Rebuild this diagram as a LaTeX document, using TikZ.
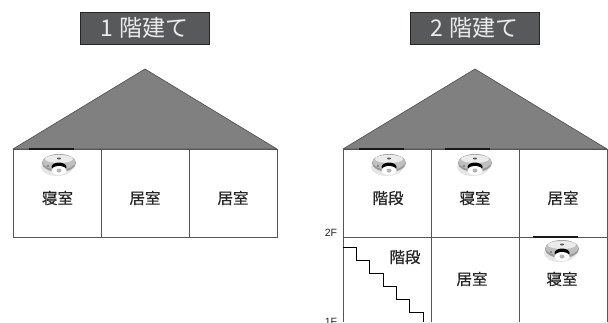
\documentclass[tikz,border=0pt]{standalone}
\usepackage{fontspec}
\setmainfont{Liberation Sans}
\newfontfamily\cjk{Noto Sans CJK JP}
\newfontfamily\cjkm[FakeBold=0.6]{Noto Sans CJK JP}
\definecolor{titlegray}{HTML}{58595B}
\definecolor{roofgray}{HTML}{808080}
\definecolor{wallgray}{HTML}{555555}
\tikzset{
  x=1pt,y=-1pt,
  titlebox/.style={draw=black!85,line width=0.9pt,fill=titlegray,text=white!92!black,minimum width=129pt,minimum height=32pt,inner sep=0pt,font=\fontsize{23}{23}\selectfont\cjk},
  roof/.style={fill=roofgray,draw=wallgray,line width=0.7pt,line join=round},
  wall/.style={draw=wallgray,line width=0.9pt},
  stairline/.style={draw=black,line width=0.8pt},
  ceilbar/.style={draw=black!90,line width=1.6pt},
  room/.style={inner sep=0pt,font=\fontsize{15.5}{15.5}\selectfont\cjkm,text=black!85},
  floorlab/.style={inner sep=0pt,font=\fontsize{10.5}{11}\selectfont,text=black!85},
  sensor/.pic={
    \fill[black!10] (-2,3) ellipse[x radius=16,y radius=9];
    \fill[black!40] (0,-1) ellipse[x radius=17,y radius=9];
    \fill[black!25] (0,-2) ellipse[x radius=16.5,y radius=7.5];
    \fill[black!8] (0,-5) ellipse[x radius=14,y radius=4];
    \fill[black!65] (0,-5.5) ellipse[x radius=2,y radius=1];
    \fill[black] (0,3) ellipse[x radius=7.5,y radius=4.5];
    \fill[white] (0,6.5) ellipse[x radius=7.5,y radius=4.5];
    \fill[black!30] (0,6.5) ellipse[x radius=2.5,y radius=2];
    \fill[black!55] (-11,2) circle[radius=1.2];
  }
}
\begin{document}
\begin{tikzpicture}
\useasboundingbox (0,0) rectangle (608,322);
\clip (0,0) rectangle (608,322);
% left house
\node[titlebox] (t1) at (144.5,28) {1\hspace{2pt} 階建て};
\coordinate (la) at (145,69);
\coordinate (lb) at (13,149);
\coordinate (lc) at (277,149);
\coordinate (ld) at (13,237);
\coordinate (le) at (277,237);
\filldraw[roof] (la) -- (lb) -- (lc) -- cycle;
\draw[wall] (lb) -- (ld) -- (le) -- (lc) -- cycle;
\draw[wall] (101,149) -- (101,237);
\draw[wall] (189,149) -- (189,237);
\draw[ceilbar] (29,149) -- (74,149);
\pic at (59,164) {sensor};
\node[room] (r1) at (57.5,198) {寝室};
\node[room] (r2) at (145,198) {居室};
\node[room] (r3) at (233,198) {居室};
% right house
\node[titlebox] (t2) at (474.5,28) {2\hspace{2pt} 階建て};
\coordinate (ra) at (475,69);
\coordinate (rb) at (343,149);
\coordinate (rc) at (607,149);
\filldraw[roof] (ra) -- (rb) -- (rc) -- cycle;
\draw[wall] (rb) -- (rc) -- (607,322);
\draw[wall] (343,149) -- (343,322);
\draw[wall] (431,149) -- (431,322);
\draw[wall] (519,149) -- (519,322);
\draw[wall] (343,237) -- (607,237);
\draw[ceilbar] (359,149) -- (404,149);
\draw[ceilbar] (445,149) -- (490,149);
\draw[ceilbar] (533,237) -- (578,237);
\pic at (389,164) {sensor};
\pic at (475,164) {sensor};
\pic at (562,250) {sensor};
\node[room] (r4) at (388,198) {階段};
\node[room] (r5) at (475,198) {寝室};
\node[room] (r6) at (563,198) {居室};
\node[room] (r7) at (405,257) {階段};
\node[room] (r8) at (472,279) {居室};
\node[room] (r9) at (562,279) {寝室};
\node[floorlab] (f2) at (331,233) {2F};
\node[floorlab] (f1) at (331,322) {1F};
\draw[stairline] (343,247) -- (356,247) |- (369,260) |- (383,273) |- (396,286) |- (409,299) |- (423,312) -- (423,322);
\end{tikzpicture}
\end{document}
